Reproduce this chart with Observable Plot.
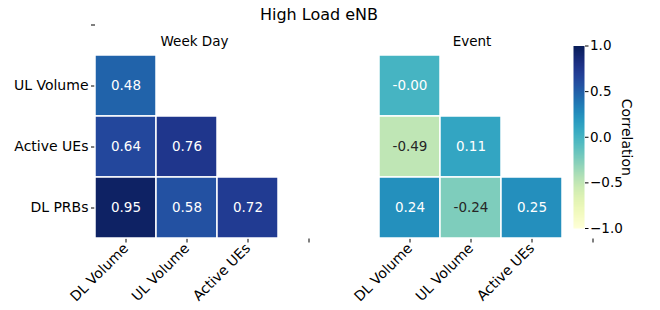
<!DOCTYPE html>
<html><head><meta charset="utf-8">
<script src="https://cdn.jsdelivr.net/npm/d3@7"></script>
<script src="https://cdn.jsdelivr.net/npm/@observablehq/plot@0.6"></script>
<style>
body{margin:0;background:#fff;font-family:"DejaVu Sans",sans-serif;}
#wrap{position:relative;width:660px;height:310px;overflow:hidden;}
#wrap svg{position:absolute;top:0;}
.t{position:absolute;line-height:1;white-space:nowrap;transform:translateX(-50%);color:#000;}
</style></head><body><div id="wrap"></div>
<script>
const title = "High Load eNB";
const panels = ["Week Day", "Event"];
const xLabels = ["DL Volume", "UL Volume", "Active UEs", ""];
const yLabels = ["", "UL Volume", "Active UEs", "DL PRBs"];
const cellRows = ["UL Volume", "Active UEs", "Active UEs", "DL PRBs", "DL PRBs", "DL PRBs"];
const cellCols = ["DL Volume", "DL Volume", "UL Volume", "DL Volume", "UL Volume", "Active UEs"];
const weekDay = [0.48, 0.64, 0.76, 0.95, 0.58, 0.72];
const eventVals = [-0.004, -0.49, 0.11, 0.24, -0.24, 0.25];
const cbTicks = [-1, -0.5, 0, 0.5, 1];
const cbLabel = "Correlation";

const cells = panels.flatMap((p, i) => (i ? eventVals : weekDay).map((v, j) => ({panel: p, row: cellRows[j], col: cellCols[j], value: v})));

function lum(c) {
  const {r, g, b} = d3.rgb(c);
  const f = v => { v /= 255; return v <= 0.03928 ? v / 12.92 : Math.pow((v + 0.055) / 1.055, 2.4); };
  return 0.2126 * f(r) + 0.7152 * f(g) + 0.0722 * f(b);
}
const textColor = v => lum(d3.interpolateYlGnBu((v + 1) / 2)) > 0.408 ? "#262626" : "#ffffff";

const colorOpt = {type: "linear", scheme: "ylgnbu", domain: [-1, 1]};

const main = Plot.plot({
  width: 660, height: 310,
  marginLeft: 94, marginRight: 36, marginTop: 0, marginBottom: 71.5,
  style: {fontFamily: "DejaVu Sans", fontSize: "14px", color: "#000", background: "transparent"},
  fx: {domain: panels, paddingInner: 0.14, paddingOuter: 0, axis: null},
  x: {domain: xLabels, padding: 0, label: null, tickRotate: -45, tickSize: 4, tickPadding: 3},
  y: {domain: yLabels, range: [-7.3, 238.5], padding: 0, label: null, tickSize: 4, tickPadding: 3},
  color: colorOpt,
  marks: [
    Plot.cell(cells, {fx: "panel", x: "col", y: "row", fill: "value", stroke: "white", strokeWidth: 1.5, inset: 0}),
    Plot.text(cells, {fx: "panel", x: "col", y: "row", text: d => d.value.toFixed(2), fill: d => textColor(d.value), fontSize: 13.5})
  ]
});

const cbar = Plot.plot({
  width: 100, height: 310,
  marginLeft: 13, marginRight: 76, marginTop: 45.5, marginBottom: 82,
  style: {fontFamily: "DejaVu Sans", fontSize: "13.5px", color: "#000", background: "transparent"},
  x: {domain: [0, 1], axis: null},
  y: {domain: [-1, 1], axis: "right", ticks: cbTicks, tickFormat: ".1f", tickSize: 3.5, tickPadding: 2, label: null},
  color: colorOpt,
  marks: [
    Plot.raster({x1: 0, x2: 1, y1: -1, y2: 1, width: 1, height: 256, fill: (x, y) => y, imageRendering: "auto"}),
    Plot.text([cbLabel], {frameAnchor: "right", textAnchor: "middle", rotate: 90, dx: 42, fontSize: 14, fill: "#000"})
  ]
});

const wrap = document.getElementById("wrap");
main.style.left = "0px";
cbar.style.left = "560px";
wrap.appendChild(main);
wrap.appendChild(cbar);

function addText(txt, cx, top, size) {
  const d = document.createElement("div");
  d.className = "t";
  d.textContent = txt;
  d.style.left = cx + "px";
  d.style.top = top + "px";
  d.style.fontSize = size + "px";
  wrap.appendChild(d);
}
addText(title, 319, 6.5, 16);
addText(panels[0], 194.5, 34.6, 13.5);
addText(panels[1], 472, 34.6, 13.5);
</script></body></html>
